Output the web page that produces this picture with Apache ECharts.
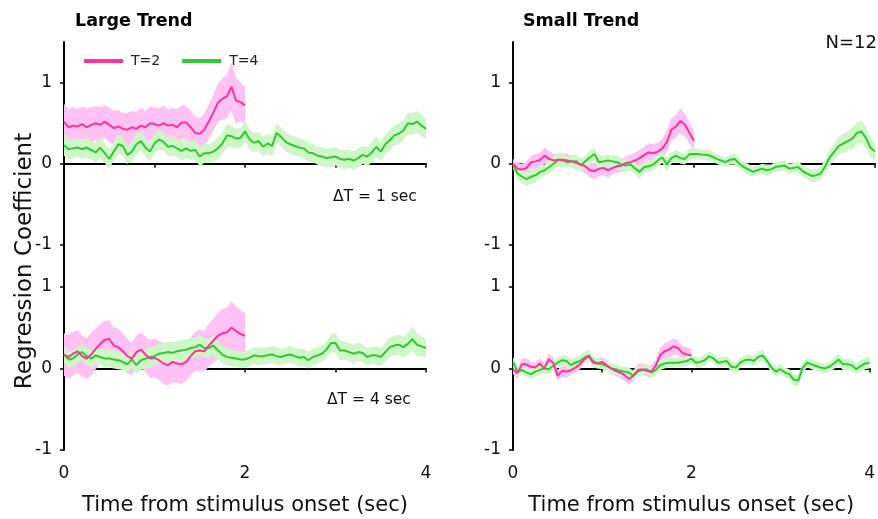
<!DOCTYPE html>
<html>
<head>
<meta charset="utf-8">
<script src="https://cdn.jsdelivr.net/npm/echarts@6/dist/echarts.min.js"></script>
<style>html,body{margin:0;background:#fff}#chart{width:878px;height:519px}</style>
</head>
<body>
<div id="chart"></div>
<script>
// sampling step of the curves (sec)
var step = 0.05;
var xTickLabels = [0, 2, 4];
var yTickLabels = [-1, 0, 1];

// Large trend, dT = 1 sec
var largeDt1T2 = [0.52,0.45,0.47,0.46,0.49,0.45,0.48,0.50,0.48,0.52,0.48,
  0.44,0.46,0.43,0.42,0.45,0.43,0.47,0.45,0.50,0.49,
  0.47,0.50,0.47,0.48,0.45,0.51,0.51,0.45,0.38,0.37,
  0.42,0.52,0.63,0.75,0.80,0.83,0.95,0.78,0.76,0.72];
var largeDt1T2Se = [0.22,0.22,0.23,0.21,0.22,0.23,0.22,0.21,0.22,0.20,0.21,
  0.21,0.20,0.20,0.21,0.20,0.21,0.22,0.20,0.21,0.20,
  0.21,0.22,0.20,0.21,0.22,0.21,0.20,0.21,0.20,0.19,
  0.20,0.21,0.22,0.24,0.25,0.27,0.30,0.28,0.24,0.22];
var largeDt1T4 = [0.23,0.18,0.19,0.20,0.18,0.20,0.17,0.14,0.20,0.13,0.06,
  0.15,0.24,0.22,0.11,0.15,0.24,0.28,0.20,0.15,0.25,
  0.30,0.27,0.21,0.22,0.19,0.16,0.19,0.16,0.17,0.09,
  0.13,0.13,0.15,0.19,0.25,0.35,0.34,0.31,0.32,0.40,
  0.30,0.26,0.28,0.21,0.25,0.22,0.38,0.33,0.27,0.24,
  0.22,0.20,0.19,0.14,0.13,0.10,0.09,0.07,0.08,0.09,
  0.06,0.05,0.06,0.04,0.07,0.11,0.09,0.14,0.21,0.15,
  0.24,0.29,0.35,0.37,0.41,0.50,0.49,0.52,0.47,0.43];
var largeDt1T4Se = [0.13,0.12,0.12,0.11,0.12,0.12,0.11,0.12,0.13,0.12,0.12,
  0.11,0.12,0.12,0.11,0.12,0.13,0.12,0.11,0.12,0.12,
  0.12,0.11,0.12,0.12,0.11,0.12,0.12,0.11,0.12,0.12,
  0.12,0.11,0.12,0.13,0.13,0.14,0.13,0.12,0.12,0.13,
  0.12,0.12,0.11,0.12,0.12,0.13,0.12,0.11,0.12,0.11,
  0.12,0.11,0.11,0.12,0.11,0.11,0.12,0.11,0.12,0.11,
  0.11,0.12,0.11,0.11,0.12,0.11,0.12,0.12,0.13,0.12,
  0.12,0.13,0.12,0.13,0.12,0.13,0.14,0.13,0.13,0.12];

// Small trend, dT = 1 sec
var smallDt1T2 = [0.00,-0.06,-0.07,-0.05,0.02,0.03,0.05,0.10,0.06,0.04,0.05,
  0.05,0.04,0.03,0.01,-0.01,-0.03,-0.08,-0.09,-0.06,-0.05,
  -0.08,-0.05,-0.03,-0.02,0.01,0.02,0.04,0.07,0.11,0.14,
  0.13,0.15,0.19,0.27,0.42,0.46,0.53,0.48,0.38,0.28];
var smallDt1T2Se = [0.06,0.07,0.07,0.08,0.08,0.09,0.09,0.10,0.09,0.08,0.08,
  0.08,0.08,0.07,0.08,0.08,0.09,0.09,0.10,0.09,0.09,
  0.09,0.08,0.08,0.08,0.09,0.09,0.10,0.10,0.10,0.11,
  0.11,0.11,0.12,0.13,0.14,0.14,0.15,0.14,0.13,0.12];
var smallDt1T4 = [-0.01,-0.12,-0.16,-0.19,-0.16,-0.14,-0.10,-0.08,-0.04,0.00,0.05,
  0.04,0.02,0.03,0.03,-0.02,0.03,0.08,0.12,0.02,0.03,
  0.04,0.03,0.02,-0.01,-0.02,-0.01,-0.06,-0.10,-0.04,-0.03,
  -0.01,0.04,0.08,-0.01,0.07,0.10,0.07,0.06,0.12,0.12,
  0.12,0.11,0.11,0.09,0.06,0.04,0.02,0.05,0.06,0.00,
  -0.04,-0.07,-0.10,-0.08,-0.06,-0.08,-0.07,-0.04,-0.03,-0.02,
  -0.06,-0.05,-0.04,-0.09,-0.12,-0.15,-0.14,-0.12,-0.03,0.08,
  0.15,0.22,0.25,0.28,0.31,0.38,0.40,0.32,0.20,0.15];
var smallDt1T4Se = [0.05,0.07,0.08,0.08,0.09,0.08,0.08,0.07,0.08,0.08,0.08,
  0.08,0.07,0.08,0.08,0.08,0.07,0.08,0.08,0.08,0.07,
  0.07,0.07,0.08,0.07,0.07,0.07,0.07,0.08,0.07,0.07,
  0.07,0.07,0.07,0.08,0.07,0.07,0.07,0.07,0.07,0.07,
  0.06,0.06,0.07,0.06,0.06,0.06,0.06,0.06,0.07,0.06,
  0.06,0.07,0.06,0.06,0.06,0.07,0.06,0.06,0.06,0.06,
  0.06,0.06,0.07,0.07,0.07,0.08,0.08,0.08,0.09,0.10,
  0.10,0.11,0.12,0.12,0.13,0.13,0.14,0.13,0.12,0.10];

// Large trend, dT = 4 sec
var largeDt4T2 = [0.17,0.14,0.18,0.21,0.15,0.12,0.17,0.24,0.30,0.35,0.36,
  0.28,0.26,0.21,0.15,0.12,0.20,0.23,0.17,0.12,0.13,
  0.10,0.06,0.04,0.08,0.06,0.05,0.08,0.15,0.21,0.22,
  0.21,0.28,0.34,0.40,0.43,0.44,0.50,0.46,0.42,0.40];
var largeDt4T2Se = [0.26,0.27,0.27,0.26,0.25,0.25,0.26,0.25,0.24,0.23,0.23,
  0.22,0.23,0.22,0.21,0.20,0.20,0.21,0.22,0.23,0.24,
  0.24,0.25,0.25,0.25,0.24,0.24,0.23,0.23,0.24,0.25,
  0.25,0.26,0.27,0.28,0.30,0.31,0.32,0.30,0.29,0.28];
var largeDt4T4 = [0.17,0.11,0.12,0.17,0.20,0.15,0.12,0.16,0.14,0.12,0.12,
  0.11,0.10,0.08,0.05,0.11,0.04,0.10,0.12,0.14,0.15,
  0.18,0.19,0.20,0.19,0.21,0.22,0.23,0.25,0.26,0.29,
  0.25,0.25,0.28,0.22,0.17,0.14,0.13,0.12,0.11,0.11,
  0.13,0.16,0.15,0.15,0.16,0.17,0.15,0.14,0.16,0.17,
  0.15,0.13,0.14,0.10,0.14,0.16,0.18,0.23,0.31,0.31,
  0.22,0.22,0.20,0.18,0.20,0.19,0.14,0.16,0.16,0.14,
  0.20,0.26,0.28,0.29,0.26,0.30,0.36,0.29,0.27,0.25];
var largeDt4T4Se = [0.10,0.10,0.10,0.09,0.10,0.10,0.11,0.10,0.10,0.11,0.11,
  0.11,0.11,0.10,0.10,0.10,0.11,0.12,0.12,0.12,0.12,
  0.12,0.12,0.13,0.12,0.13,0.13,0.12,0.12,0.12,0.12,
  0.12,0.11,0.11,0.11,0.11,0.10,0.10,0.10,0.10,0.10,
  0.10,0.10,0.11,0.10,0.10,0.10,0.11,0.10,0.10,0.10,
  0.10,0.11,0.10,0.10,0.10,0.10,0.10,0.11,0.11,0.12,
  0.12,0.11,0.11,0.11,0.11,0.11,0.10,0.10,0.11,0.11,
  0.11,0.12,0.12,0.12,0.13,0.13,0.15,0.14,0.12,0.11];

// Small trend, dT = 4 sec
var smallDt4T2 = [-0.01,-0.06,0.05,0.05,0.02,0.01,0.06,0.00,0.11,0.07,-0.09,
  -0.03,-0.04,-0.02,0.01,0.05,0.11,0.15,0.07,0.06,0.08,
  0.04,0.00,-0.03,-0.05,-0.08,-0.13,-0.09,-0.02,-0.01,-0.03,
  -0.04,0.03,0.16,0.21,0.23,0.27,0.25,0.19,0.17,0.16];
var smallDt4T2Se = [0.06,0.07,0.07,0.07,0.06,0.06,0.06,0.07,0.07,0.07,0.07,
  0.07,0.07,0.06,0.06,0.06,0.06,0.06,0.06,0.06,0.06,
  0.06,0.06,0.06,0.07,0.07,0.07,0.07,0.07,0.07,0.07,
  0.08,0.08,0.09,0.10,0.10,0.10,0.09,0.09,0.08,0.08];
var smallDt4T4 = [0.08,-0.04,-0.02,-0.05,-0.07,-0.04,-0.02,0.00,-0.01,0.03,0.07,
  0.10,0.09,0.04,0.07,0.09,0.13,0.16,0.09,0.06,0.05,
  0.03,0.00,-0.01,-0.03,-0.04,-0.05,-0.09,-0.04,-0.02,-0.01,
  -0.05,-0.02,0.04,0.06,0.07,0.07,0.07,0.08,0.09,0.12,
  0.07,0.08,0.10,0.15,0.12,0.07,0.08,0.09,0.02,0.01,
  0.07,0.10,0.11,0.09,0.14,0.16,0.09,0.01,-0.04,-0.01,
  -0.05,-0.07,-0.14,-0.15,0.01,0.07,0.05,0.03,0.01,0.00,
  0.02,0.06,0.11,0.05,0.05,0.04,-0.01,0.03,0.06,0.07];
var smallDt4T4Se = [0.06,0.06,0.06,0.05,0.06,0.06,0.06,0.06,0.06,0.06,0.06,
  0.06,0.07,0.07,0.07,0.07,0.07,0.07,0.06,0.06,0.06,
  0.06,0.06,0.06,0.06,0.06,0.06,0.06,0.06,0.06,0.06,
  0.06,0.06,0.06,0.06,0.06,0.06,0.06,0.06,0.06,0.06,
  0.06,0.06,0.07,0.06,0.06,0.06,0.06,0.06,0.06,0.06,
  0.06,0.06,0.06,0.06,0.07,0.07,0.06,0.06,0.06,0.06,
  0.06,0.06,0.07,0.07,0.06,0.06,0.06,0.06,0.06,0.06,
  0.06,0.07,0.07,0.07,0.07,0.07,0.06,0.07,0.07,0.07];

var font = 'DejaVu Sans';
var pinkLine = '#ff3399', pinkBand = '#ffc2f3';
var greenLine = '#33c833', greenBand = '#cdf7c6';

var panels = [
  { grid: { left: 64, top: 42, width: 362, height: 203 }, t2: largeDt1T2, se2: largeDt1T2Se, t4: largeDt1T4, se4: largeDt1T4Se, bottom: false },
  { grid: { left: 513, top: 42, width: 362, height: 203 }, t2: smallDt1T2, se2: smallDt1T2Se, t4: smallDt1T4, se4: smallDt1T4Se, bottom: false },
  { grid: { left: 64, top: 246, width: 362, height: 204 }, t2: largeDt4T2, se2: largeDt4T2Se, t4: largeDt4T4, se4: largeDt4T4Se, bottom: true },
  { grid: { left: 513, top: 246, width: 362, height: 204 }, t2: smallDt4T2, se2: smallDt4T2Se, t4: smallDt4T4, se4: smallDt4T4Se, bottom: true }
];

function tAt(i) { return +(i * step).toFixed(2); }
function pts(arr) { return arr.map(function (v, i) { return [tAt(i), v]; }); }

// mean +/- se band, drawn as one polygon through the axes' scales
function bandSeries(g, xi, arr, se, color) {
  return {
    type: 'custom', xAxisIndex: xi, yAxisIndex: g, silent: true, z: 2,
    data: [[0, arr[0]]],
    renderItem: function (params, api) {
      var top = arr.map(function (v, i) { return api.coord([tAt(i), v + se[i]]); });
      var bot = arr.map(function (v, i) { return api.coord([tAt(i), v - se[i]]); }).reverse();
      return { type: 'polygon', shape: { points: top.concat(bot) }, style: { fill: color } };
    }
  };
}

var grids = [], xAxes = [], yAxes = [], series = [];

panels.forEach(function (p, g) {
  grids.push(p.grid);
  var xi = xAxes.length;
  // axis that carries the series and the bottom labels
  xAxes.push({
    gridIndex: g, type: 'value', min: 0, max: 4, interval: 2, position: 'bottom',
    axisLine: { show: false, onZero: false }, axisTick: { show: false }, splitLine: { show: false },
    axisLabel: { show: p.bottom, customValues: xTickLabels, fontSize: 17, fontFamily: font, color: '#111', margin: 15 },
    name: p.bottom ? 'Time from stimulus onset (sec)' : '', nameLocation: 'middle', nameGap: 45,
    nameTextStyle: { fontSize: 21, fontFamily: font, color: '#111' }
  });
  // zero line with ticks
  xAxes.push({
    gridIndex: g, type: 'value', min: 0, max: 4, interval: 1, position: 'bottom',
    axisLine: { show: true, onZero: true, lineStyle: { color: '#000', width: 2 } },
    axisTick: { show: true, length: 4, lineStyle: { color: '#000', width: 1.5 } },
    axisLabel: { show: false }, splitLine: { show: false }
  });
  yAxes.push({
    gridIndex: g, type: 'value', min: -1, max: 1.5, interval: 0.5,
    axisLine: { show: true, onZero: false, lineStyle: { color: '#000', width: 2 } },
    axisTick: { show: true, length: 4, customValues: yTickLabels, lineStyle: { color: '#000', width: 1.5 } },
    axisLabel: { customValues: yTickLabels, fontSize: 17, fontFamily: font, color: '#111', margin: 12 },
    splitLine: { show: false }
  });

  series.push(bandSeries(g, xi, p.t2, p.se2, pinkBand));
  series.push(bandSeries(g, xi, p.t4, p.se4, greenBand));

  series.push({ name: 'T=4', type: 'line', xAxisIndex: xi, yAxisIndex: g, data: pts(p.t4),
    showSymbol: false, symbol: 'none', z: 3,
    itemStyle: { color: greenLine }, lineStyle: { color: greenLine, width: 2 } });
  series.push({ name: 'T=2', type: 'line', xAxisIndex: xi, yAxisIndex: g, data: pts(p.t2),
    showSymbol: false, symbol: 'none', z: 4,
    itemStyle: { color: pinkLine }, lineStyle: { color: pinkLine, width: 2 } });
});

var chart = echarts.init(document.getElementById('chart'));
chart.setOption({
  animation: false,
  backgroundColor: '#fff',
  textStyle: { fontFamily: font },
  legend: {
    data: ['T=2', 'T=4'], left: 79, top: 49, icon: 'rect', itemWidth: 39, itemHeight: 4, itemGap: 22,
    textStyle: { fontSize: 14, fontFamily: font, color: '#222', padding: [0, 0, 0, 3] }
  },
  grid: grids,
  xAxis: xAxes,
  yAxis: yAxes,
  series: series,
  graphic: [
    { type: 'text', left: 75, top: 12, style: { text: 'Large Trend', font: 'bold 17.5px "DejaVu Sans"', fill: '#000' } },
    { type: 'text', left: 523, top: 12, style: { text: 'Small Trend', font: 'bold 17.5px "DejaVu Sans"', fill: '#000' } },
    { type: 'text', right: 1, top: 34, style: { text: 'N=12', font: '18px "DejaVu Sans"', fill: '#111' } },
    { type: 'text', left: 333, top: 189, style: { text: '\u0394T = 1 sec', font: '15.5px "DejaVu Sans"', fill: '#111' } },
    { type: 'text', left: 327, top: 392, style: { text: '\u0394T = 4 sec', font: '15.5px "DejaVu Sans"', fill: '#111' } },
    { type: 'text', x: 25, y: 261, rotation: Math.PI / 2,
      style: { text: 'Regression Coefficient', font: '23px "DejaVu Sans"', fill: '#111', align: 'center', verticalAlign: 'middle' } }
  ]
});
</script>
</body>
</html>
